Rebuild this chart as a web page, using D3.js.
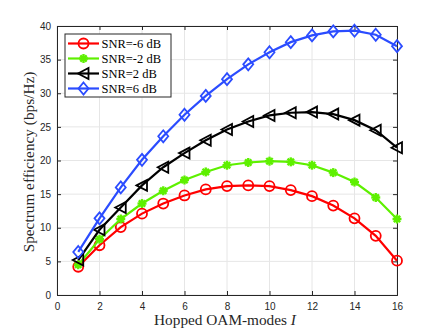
<!DOCTYPE html>
<html>
<head>
<meta charset="utf-8">
<script src="https://cdn.jsdelivr.net/npm/d3@7"></script>
<style>
body { margin: 0; background: #fff; }
svg { display: block; }
</style>
</head>
<body>
<svg id="chart" width="440" height="332"></svg>
<script>
// hopped OAM modes
var modes = [1, 2, 3, 4, 5, 6, 7, 8, 9, 10, 11, 12, 13, 14, 15, 16];
var snrM6 = [4.2, 7.4, 10.1, 12.1, 13.6, 14.8, 15.7, 16.2, 16.3, 16.2, 15.6, 14.7, 13.3, 11.4, 8.8, 5.1];
var snrM2 = [4.5, 8.3, 11.3, 13.6, 15.5, 17.1, 18.3, 19.3, 19.7, 19.9, 19.8, 19.3, 18.2, 16.8, 14.5, 11.3];
var snr2 = [5.2, 9.7, 13.0, 16.3, 19.0, 21.1, 23.0, 24.6, 25.8, 26.7, 27.1, 27.2, 26.9, 26.0, 24.5, 21.9];
var snr6 = [6.4, 11.4, 16.0, 20.1, 23.6, 26.8, 29.6, 32.1, 34.3, 36.1, 37.6, 38.6, 39.2, 39.3, 38.7, 37.0];
var seriesNames = ["SNR=-6 dB", "SNR=-2 dB", "SNR=2 dB", "SNR=6 dB"];
var xTicks = [0, 2, 4, 6, 8, 10, 12, 14, 16];
var yTicks = [0, 5, 10, 15, 20, 25, 30, 35, 40];

var series = [
  { name: seriesNames[0], values: snrM6, color: "#ff0000", marker: "circle" },
  { name: seriesNames[1], values: snrM2, color: "#5ef000", marker: "star" },
  { name: seriesNames[2], values: snr2, color: "#000000", marker: "triangle" },
  { name: seriesNames[3], values: snr6, color: "#2b4cff", marker: "diamond" }
];

var margin = { top: 26, right: 43, bottom: 37, left: 57 },
    width = 440 - margin.left - margin.right,
    height = 332 - margin.top - margin.bottom;

var svg = d3.select("#chart");
var g = svg.append("g").attr("transform", "translate(" + margin.left + "," + margin.top + ")");

var x = d3.scaleLinear().domain([0, 16]).range([0, width]);
var y = d3.scaleLinear().domain([0, 40]).range([height, 0]);

// grid
g.append("g").selectAll("line").data(xTicks).enter().append("line")
  .attr("x1", function(d){ return x(d); }).attr("x2", function(d){ return x(d); })
  .attr("y1", 0).attr("y2", height)
  .attr("stroke", "#e6e6e6").attr("stroke-width", 1);
g.append("g").selectAll("line").data(yTicks).enter().append("line")
  .attr("y1", function(d){ return y(d); }).attr("y2", function(d){ return y(d); })
  .attr("x1", 0).attr("x2", width)
  .attr("stroke", "#e6e6e6").attr("stroke-width", 1);

// axes
g.append("g").attr("transform", "translate(0," + height + ")")
  .call(d3.axisBottom(x).tickValues(xTicks).tickSize(-4).tickPadding(8));
g.append("g")
  .call(d3.axisLeft(y).tickValues(yTicks).tickSize(-4).tickPadding(6));
g.append("g").attr("transform", "translate(0,0)")
  .call(d3.axisTop(x).tickValues(xTicks).tickSize(-4).tickFormat(""));
g.append("g").attr("transform", "translate(" + width + ",0)")
  .call(d3.axisRight(y).tickValues(yTicks).tickSize(-4).tickFormat(""));
g.selectAll(".domain").attr("stroke", "#262626");
g.selectAll(".tick line").attr("stroke", "#262626");
g.selectAll(".tick text").attr("fill", "#262626")
  .style("font-family", "Liberation Sans, Arial, sans-serif").style("font-size", "10px");

// lines
var line = d3.line()
  .x(function(d, i){ return x(modes[i]); })
  .y(function(d){ return y(d); });

function drawMarker(sel, type, color) {
  if (type === "circle") {
    sel.append("circle").attr("r", 5).attr("fill", "none")
      .attr("stroke", color).attr("stroke-width", 1.8);
  } else if (type === "star") {
    var r = 4.5;
    [0, 45, 90, 135].forEach(function(a){
      var rad = a * Math.PI / 180;
      sel.append("line")
        .attr("x1", -r * Math.cos(rad)).attr("y1", -r * Math.sin(rad))
        .attr("x2", r * Math.cos(rad)).attr("y2", r * Math.sin(rad))
        .attr("stroke", color).attr("stroke-width", 2.4);
    });
    sel.append("circle").attr("r", 2.8).attr("fill", color);
  } else if (type === "triangle") {
    sel.append("path").attr("d", "M-5.5,0L5,-5.5L5,5.5Z").attr("fill", "none")
      .attr("stroke", color).attr("stroke-width", 1.8);
  } else if (type === "diamond") {
    sel.append("path").attr("d", "M0,-6L5,0L0,6L-5,0Z").attr("fill", "none")
      .attr("stroke", color).attr("stroke-width", 1.8);
  }
}

series.forEach(function(s){
  g.append("path").datum(s.values)
    .attr("d", line).attr("fill", "none")
    .attr("stroke", s.color).attr("stroke-width", 2.2);
  g.append("g").selectAll("g").data(s.values).enter().append("g")
    .attr("transform", function(d, i){ return "translate(" + x(modes[i]) + "," + y(d) + ")"; })
    .each(function(){ drawMarker(d3.select(this), s.marker, s.color); });
});

// legend
var legend = svg.append("g").attr("transform", "translate(65,34)");
legend.append("rect").attr("width", 106).attr("height", 63)
  .attr("fill", "#fff").attr("stroke", "#262626").attr("stroke-width", 1);
series.forEach(function(s, i){
  var ly = 9.5 + i * 15;
  var row = legend.append("g").attr("transform", "translate(0," + ly + ")");
  row.append("line").attr("x1", 3).attr("x2", 34).attr("y1", 0).attr("y2", 0)
    .attr("stroke", s.color).attr("stroke-width", 2.2);
  drawMarker(row.append("g").attr("transform", "translate(18.5,0)"), s.marker, s.color);
  row.append("text").attr("x", 36.5).attr("y", 4.5)
    .style("font-family", "Liberation Serif, Times New Roman, serif").style("font-size", "12.5px")
    .attr("fill", "#000").text(s.name);
});

// axis labels
var xl = svg.append("text").attr("x", 225).attr("y", 325)
  .attr("text-anchor", "middle")
  .style("font-family", "Liberation Serif, Times New Roman, serif").style("font-size", "15.3px")
  .attr("fill", "#262626");
xl.append("tspan").text("Hopped OAM-modes ");
xl.append("tspan").style("font-style", "italic").text("I");

svg.append("text").attr("transform", "translate(33.5,162) rotate(-90)")
  .attr("text-anchor", "middle")
  .style("font-family", "Liberation Serif, Times New Roman, serif").style("font-size", "15.3px")
  .attr("fill", "#262626").text("Spectrum efficiency (bps/Hz)");
</script>
</body>
</html>
